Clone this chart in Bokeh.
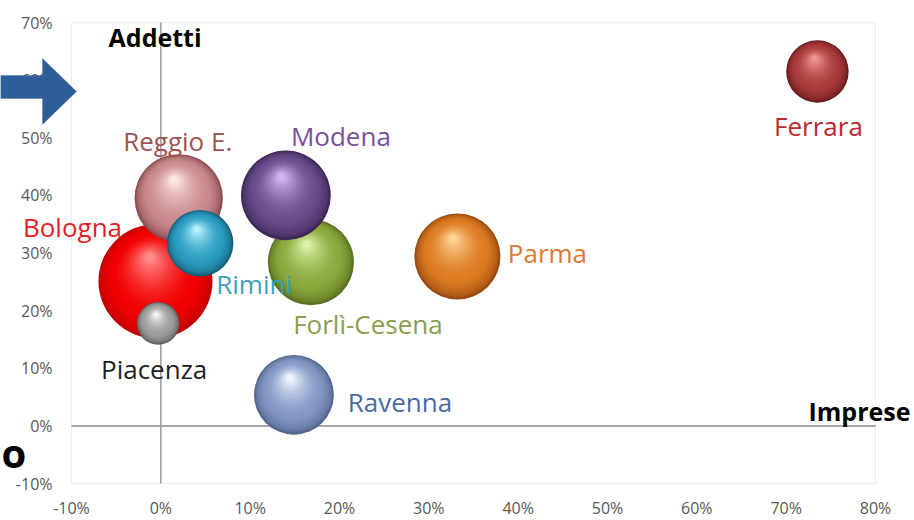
from bokeh.plotting import figure
from bokeh.models import (Range1d, Label, LabelSet, ColumnDataSource, PolyAnnotation)
from bokeh.core.properties import value
from bokeh.embed import file_html
from bokeh.resources import INLINE
import math

# ---------------- data ----------------
names = ["Bologna", "Forlì-Cesena", "Modena", "Reggio E.", "Rimini",
         "Piacenza", "Parma", "Ravenna", "Ferrara"]
imprese = [-0.6, 16.8, 14.0, 2.0, 4.4, -0.3, 33.2, 14.9, 73.5]      # x, %
addetti = [25.1, 28.4, 40.0, 39.5, 31.7, 17.8, 29.4, 5.4, 61.5]     # y, %
peso = [100, 57, 62, 60, 34, 14, 57, 49, 30]                        # bubble size (relative)

x_ticks = [-10, 0, 10, 20, 30, 40, 50, 60, 70, 80]
y_ticks = [-10, 0, 10, 20, 30, 40, 50, 60, 70]
x_tick_labels = ["%d%%" % v for v in x_ticks]
y_tick_labels = ["%d%%" % v for v in y_ticks]

# ---------------- styles ----------------
base_col = ["#f20000", "#8aa83c", "#6a4b8c", "#c98a8c", "#2a9cc0",
            "#9c9c9c", "#dc7a22", "#8298c4", "#a83a3c"]
light_col = ["#ff8a8a", "#dcf2a8", "#d2b4f2", "#fde4e4", "#b4f2ff",
             "#f6f6f6", "#ffd494", "#f0f5ff", "#f29494"]
dark_col = ["#c40000", "#5b7222", "#3d2858", "#8c4e52", "#14607a",
            "#5e5e5e", "#9a4c10", "#52658e", "#6a1c1e"]
label_col = ["#e31e24", "#8a9e4e", "#7b4f9d", "#a05452", "#3a9fbf",
             "#1f1f1f", "#e07b2c", "#4a6ba0", "#c0282d"]
# label offsets in screen px (right, down)
lab_dx = [-83, 57, 55, -1, 54, -4, 90, 106, 1]
lab_dy = [-54, 62, -59, -57, 41, 46, -3, 7, 55]

W, H = 914, 520
FL, FR, FT, FB = 71, 39, 22, 37          # plot-area margins inside the canvas
FW, FH = W - FL - FR, H - FT - FB
XMIN, XMAX, YMIN, YMAX = -10, 80, -10, 70
DX = (XMAX - XMIN) / FW                  # data units per px
DY = (YMAX - YMIN) / FH
MAX_R = 57.0
FONT = "Open Sans"

p = figure(width=W, height=H,
           x_range=Range1d(XMIN - FL * DX, XMAX + FR * DX),
           y_range=Range1d(YMIN - FB * DY, YMAX + FT * DY),
           output_backend="svg", toolbar_location=None,
           min_border=0)
p.axis.visible = False
p.xgrid.visible = False
p.ygrid.visible = False
p.outline_line_color = None
p.background_fill_color = "white"
p.border_fill_color = "white"

# plot-area border
p.quad(left=[XMIN], right=[XMAX], bottom=[YMIN], top=[YMAX],
       fill_color=None, line_color="#ececec", line_width=1)

# tick labels
p.text(x=[XMIN] * len(y_ticks), y=y_ticks, text=y_tick_labels, x_offset=-19,
       text_align="right", text_baseline="middle", text_font=value(FONT),
       text_font_size="16px", text_color="#585858")
p.text(x=x_ticks, y=[YMIN] * len(x_ticks), text=x_tick_labels, y_offset=13,
       text_align="center", text_baseline="top", text_font=value(FONT),
       text_font_size="16px", text_color="#585858")

# quadrant axes
p.segment(x0=[XMIN], y0=[0], x1=[XMAX], y1=[0], line_color="#8a8a8a", line_width=1.5)
p.segment(x0=[0], y0=[YMIN], x1=[0], y1=[YMAX], line_color="#9a9a9a", line_width=1.5)


def hex2rgb(h):
    h = h.lstrip("#")
    return tuple(int(h[i:i + 2], 16) for i in (0, 2, 4))


def mix(a, b, t):
    ra, rb = hex2rgb(a), hex2rgb(b)
    return "#%02x%02x%02x" % tuple(int(round(ra[k] + (rb[k] - ra[k]) * t)) for k in range(3))


N = 22
for i in range(len(names)):
    r = MAX_R * math.sqrt(peso[i] / 100.0)
    xs, ys, ss, cs = [], [], [], []
    for k in range(N):
        t = k / (N - 1)
        rad = r * (1 - 0.92 * t)
        ox = -0.10 * r * t
        oy = 0.42 * r * t
        xs.append(imprese[i] + ox * DX)
        ys.append(addetti[i] + oy * DY)
        ss.append(2 * rad)
        if t < 0.28:
            c = mix(dark_col[i], base_col[i], (t / 0.28) ** 0.6)
        else:
            c = mix(base_col[i], light_col[i], ((t - 0.28) / 0.72) ** 1.6)
        cs.append(c)
    src = ColumnDataSource(dict(x=xs, y=ys, s=ss, c=cs))
    p.scatter("x", "y", size="s", fill_color="c", line_color=None, source=src)

lsrc = ColumnDataSource(dict(x=imprese, y=addetti, t=names, c=label_col,
                             dx=lab_dx, dy=[-d for d in lab_dy]))
p.add_layout(LabelSet(x="x", y="y", text="t", source=lsrc, x_offset="dx", y_offset="dy",
                      text_color="c", text_font=value(FONT), text_font_size="26px",
                      text_align="center", text_baseline="middle"))

p.add_layout(Label(x=-5.85, y=67.4, text="Addetti", text_font=FONT, text_font_style="bold",
                   text_font_size="25px", text_color="black", text_baseline="middle"))
p.add_layout(Label(x=72.5, y=2.6, text="Imprese", text_font=FONT, text_font_style="bold",
                   text_font_size="25px", text_color="black", text_baseline="middle"))

# decorative slide fragments (arrow and a cut-off letter)
p.add_layout(PolyAnnotation(xs=[0, 42, 42, 76, 42, 42, 0], ys=[75, 75, 58, 91, 124, 98, 98],
                            xs_units="canvas", ys_units="canvas",
                            fill_color="#2e5e9a", fill_alpha=1, line_color="#2e5e9a",
                            level="overlay"))
p.add_layout(Label(x=1, y=452, x_units="canvas", y_units="canvas", text="o",
                   text_font=FONT, text_font_style="bold", text_font_size="40px",
                   text_color="black", text_baseline="middle"))

open("out.html", "w").write(file_html(p, INLINE))
